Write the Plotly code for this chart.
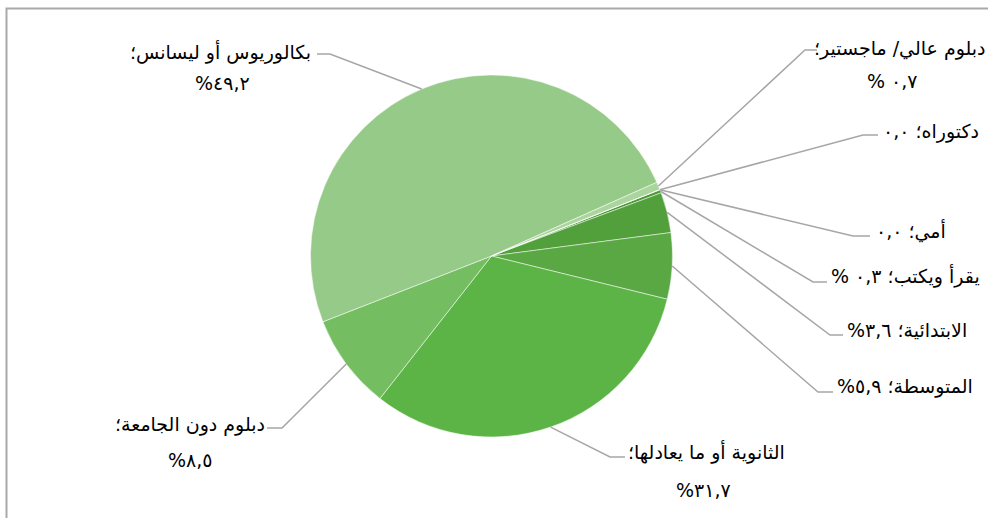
import math
import plotly.graph_objects as go

# ---- data ----
labels = ["أمي", "يقرأ ويكتب", "الابتدائية", "المتوسطة", "الثانوية أو ما يعادلها",
          "دبلوم دون الجامعة", "بكالوريوس أو ليسانس", "دبلوم عالي/ ماجستير", "دكتوراه"]
values = [0.0, 0.3, 3.6, 5.9, 31.7, 8.5, 49.2, 0.7, 0.0]
value_text = ["٠,٠", "٠,٣ %", "٣,٦%", "٥,٩%", "٣١,٧%", "٨,٥%", "٤٩,٢%", "٠,٧ %", "٠,٠"]
colors = ["#4E9A39", "#4E9A39", "#51A03C", "#5AA844", "#5DB446",
          "#74BE61", "#95CA88", "#AAD69E", "#B8DDAE"]

W, H = 988, 518
CX, CY, R = 491.5, 256.0, 181.0
ROTATION = 68.5

# label layout (pixels): elbow point, end of horizontal, label text anchors
label_layout = {
    0: dict(elbow=(853, 236), end=(870, 236), one=(874, 231)),
    1: dict(elbow=(813, 282), end=(827, 282), one=(829, 276)),
    2: dict(elbow=(830, 335), end=(843, 335), one=(845, 330)),
    3: dict(elbow=(818, 392), end=(833, 392), one=(835, 386)),
    4: dict(elbow=(610, 457), end=(625, 457), two=(706, 452, 703, 490)),
    5: dict(elbow=(282, 428), end=(267, 428), two=(190, 424, 190, 460)),
    6: dict(elbow=(330, 54), end=(317, 54), two=(220, 52, 222, 83)),
    7: dict(elbow=(805, 50), end=(817, 50), two=(900, 48, 892, 81)),
    8: dict(elbow=(863, 135), end=(878, 135), one=(881, 131)),
}

def px(x):
    return x / W

def py(y):
    return 1 - y / H

RLM = "\u200F"
FONT = dict(family="DejaVu Sans, sans-serif", size=19, color="#000000")

fig = go.Figure(go.Pie(
    labels=labels,
    values=values,
    sort=False,
    direction="clockwise",
    rotation=ROTATION,
    marker=dict(colors=colors, line=dict(color="#FFFFFF", width=0.5)),
    textinfo="none",
    hoverinfo="label+value",
    showlegend=False,
    domain=dict(x=[px(CX - R), px(CX + R)], y=[py(CY + R), py(CY - R)]),
))

total = sum(values)
cum = 0.0
shapes = []
annotations = []
for i, (lab, v, vt) in enumerate(zip(labels, values, value_text)):
    mid = math.radians(ROTATION + (cum + v / 2) / total * 360.0)
    cum += v
    sx = CX + R * math.sin(mid)
    sy = CY - R * math.cos(mid)
    lay = label_layout[i]
    ex, ey = lay["elbow"]
    hx, hy = lay["end"]
    path = "M %f,%f L %f,%f L %f,%f" % (px(sx), py(sy), px(ex), py(ey), px(hx), py(hy))
    shapes.append(dict(type="path", xref="paper", yref="paper", path=path,
                       line=dict(color="#A6A6A6", width=1.5)))
    if "one" in lay:
        tx, ty = lay["one"]
        annotations.append(dict(x=px(tx), y=py(ty), xref="paper", yref="paper",
                                text=RLM + lab + "؛ " + vt + RLM, showarrow=False,
                                xanchor="left", yanchor="middle", font=FONT))
    else:
        x1, y1, x2, y2 = lay["two"]
        annotations.append(dict(x=px(x1), y=py(y1), xref="paper", yref="paper",
                                text=RLM + lab + "؛" + RLM, showarrow=False,
                                xanchor="center", yanchor="middle", font=FONT))
        annotations.append(dict(x=px(x2), y=py(y2), xref="paper", yref="paper",
                                text=RLM + vt + RLM, showarrow=False,
                                xanchor="center", yanchor="middle", font=FONT))

# chart frame (partially visible)
shapes.append(dict(type="rect", xref="paper", yref="paper",
                   x0=px(6.5), x1=px(1010), y0=py(540), y1=py(8.5),
                   line=dict(color="#A9A9A9", width=2), fillcolor="rgba(0,0,0,0)"))

fig.update_layout(
    width=W, height=H, autosize=False,
    margin=dict(l=0, r=0, t=0, b=0),
    paper_bgcolor="#FFFFFF", plot_bgcolor="#FFFFFF",
    shapes=shapes, annotations=annotations,
)

fig.write_html("out.html", config={"displayModeBar": False},
               post_script="document.body.style.margin='0';document.body.style.overflow='hidden';")
